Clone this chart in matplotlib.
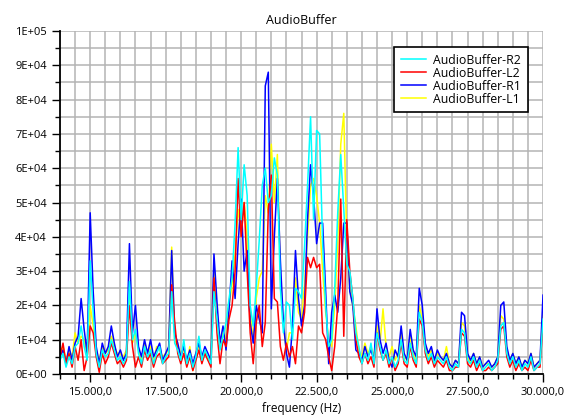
import numpy as np
import matplotlib
matplotlib.use('Agg')
import matplotlib.pyplot as plt
from matplotlib.ticker import MultipleLocator, FuncFormatter

plt.rcParams['font.family'] = ['Open Sans', 'DejaVu Sans']

# frequency axis, 100 Hz steps
freq = np.arange(14000, 30001, 100)

# spectra in thousands, one row per 1000 Hz
r1 = [5, 7, 3, 8, 4, 9, 11, 22, 13, 6,
      47, 24, 8, 3, 9, 6, 8, 14, 9, 5,
      7, 4, 6, 38, 12, 20, 8, 5, 10, 6,
      10, 5, 7, 9, 4, 6, 8, 36, 12, 9,
      5, 8, 4, 7, 3, 6, 9, 5, 8, 6,
      4, 35, 21, 9, 14, 7, 19, 33, 22, 38,
      51, 30, 36, 15, 9, 20, 16, 12, 84, 88,
      19, 40, 57, 33, 15, 6, 2, 14, 36, 22,
      14, 20, 45, 61, 52, 38, 44, 44, 24, 3,
      18, 23, 18, 28, 44, 44, 24, 20, 7, 6,
      4, 8, 5, 7, 4, 19, 10, 6, 9, 4,
      2, 7, 5, 14, 6, 4, 13, 7, 5, 25,
      20, 9, 6, 8, 4, 7, 5, 4, 6, 3,
      2, 4, 3, 18, 17, 6, 4, 6, 3, 5,
      2, 3, 4, 2, 3, 5, 20, 21, 8, 4,
      6, 3, 5, 2, 4, 3, 6, 2, 3, 4,
      23]

r2 = [4, 6, 2, 5, 3, 8, 9, 14, 8, 4,
      33, 18, 6, 2, 7, 5, 6, 10, 7, 4,
      5, 3, 5, 27, 10, 13, 6, 3, 8, 5,
      7, 3, 6, 8, 3, 5, 6, 24, 9, 7,
      4, 10, 3, 6, 2, 5, 11, 4, 7, 5,
      3, 24, 16, 7, 11, 15, 22, 28, 44, 66,
      45, 61, 52, 20, 14, 25, 39, 55, 60, 50,
      52, 63, 58, 25, 12, 21, 20, 10, 25, 24,
      22, 37, 55, 75, 45, 71, 70, 38, 20, 8,
      10, 25, 47, 64, 48, 32, 30, 22, 12, 8,
      3, 6, 4, 9, 3, 12, 8, 4, 7, 3,
      5, 2, 4, 10, 4, 3, 9, 5, 3, 18,
      15, 7, 4, 6, 3, 5, 4, 3, 5, 2,
      1, 3, 2, 13, 12, 4, 3, 5, 2, 4,
      1, 2, 3, 1, 2, 4, 14, 15, 6, 3,
      5, 2, 4, 1, 3, 2, 5, 1, 2, 3,
      16]

l1 = [6, 8, 4, 7, 5, 12, 9, 11, 10, 5,
      20, 14, 7, 4, 8, 6, 7, 11, 8, 6,
      6, 5, 7, 22, 9, 12, 7, 4, 9, 6,
      8, 4, 8, 7, 5, 6, 7, 37, 10, 8,
      6, 7, 3, 8, 1, 6, 8, 5, 7, 4,
      5, 30, 15, 8, 12, 10, 20, 26, 35, 48,
      42, 50, 40, 18, 10, 22, 28, 30, 52, 47,
      67, 50, 64, 28, 14, 7, 12, 12, 28, 18,
      16, 26, 40, 55, 57, 52, 44, 30, 18, 10,
      8, 20, 38, 67, 76, 38, 25, 20, 14, 7,
      5, 9, 6, 8, 5, 14, 9, 19, 8, 5,
      8, 4, 6, 12, 5, 4, 11, 6, 4, 20,
      16, 8, 5, 7, 4, 6, 5, 4, 8, 3,
      2, 4, 3, 15, 14, 5, 3, 6, 3, 5,
      2, 3, 3, 2, 3, 5, 17, 16, 7, 4,
      6, 3, 5, 2, 4, 3, 6, 2, 3, 4,
      18]

l2 = [5, 9, 3, 6, 2, 8, 4, 10, 1, 5,
      14, 12, 5, 0.5, 6, 3, 5, 9, 6, 3,
      4, 2, 4, 20, 8, 2, 5, 2, 7, 4,
      6, 2, 5, 6, 3, 4, 5, 26, 15, 6,
      3, 6, 2, 5, 1, 4, 7, 3, 6, 4,
      2, 28, 12, 3, 10, 8, 16, 20, 30, 57,
      40, 50, 30, 12, 3, 15, 20, 8, 15, 48,
      58, 22, 21, 8, 4, 9, 5, 8, 3, 14,
      12, 18, 34, 31, 34, 31, 32, 12, 10, 5,
      1, 8, 20, 51, 11, 45, 30, 22, 10, 5,
      3, 6, 3, 5, 2, 12, 7, 4, 6, 2,
      5, 1, 3, 9, 3, 2, 8, 4, 2, 16,
      14, 6, 3, 5, 2, 4, 3, 2, 4, 1,
      1, 2, 2, 12, 11, 3, 2, 4, 1, 3,
      1, 1, 2, 1, 2, 3, 13, 14, 5, 2,
      4, 1, 3, 1, 2, 1, 4, 1, 2, 2,
      15]

fig = plt.figure(figsize=(5.73, 4.19), dpi=100)
ax = fig.add_axes([0.1047, 0.1074, 0.843, 0.8186])

# drawn bottom to top, legend shows the reverse
lines = []
lines += ax.plot(freq, np.array(l1) * 1000, color='#ffff00', lw=1.1, label='AudioBuffer-L1')
lines += ax.plot(freq, np.array(r1) * 1000, color='#0000ff', lw=1.1, label='AudioBuffer-R1')
lines += ax.plot(freq, np.array(l2) * 1000, color='#ff0000', lw=1.1, label='AudioBuffer-L2')
lines += ax.plot(freq, np.array(r2) * 1000, color='#00ffff', lw=1.1, label='AudioBuffer-R2')

ax.set_xlim(14000, 30000)
ax.set_ylim(0, 100000)
ax.xaxis.set_major_locator(MultipleLocator(2500))
ax.xaxis.set_minor_locator(MultipleLocator(500))
ax.yaxis.set_major_locator(MultipleLocator(10000))
ax.yaxis.set_minor_locator(MultipleLocator(5000))
ax.xaxis.set_major_formatter(FuncFormatter(lambda v, p: f"{v:,.1f}".replace(',', 'X').replace('.', ',').replace('X', '.')))
ax.yaxis.set_major_formatter(FuncFormatter(lambda v, p: f"{v:.0E}"))

ax.grid(True, which='both', color='#b4b4b4', lw=1.1)
ax.set_axisbelow(True)
for s in ['top', 'right']:
    ax.spines[s].set_visible(False)
ax.spines['left'].set_linewidth(1.3)
ax.spines['bottom'].set_linewidth(1.3)
ax.tick_params(which='major', length=6, width=1, labelsize=8, direction='out')
ax.tick_params(which='minor', length=3.5, width=1, direction='out')

ax.set_title('AudioBuffer', fontsize=9, pad=5)
ax.set_xlabel('frequency (Hz)', fontsize=8.5, labelpad=3)

leg = ax.legend(lines[::-1], [l.get_label() for l in lines[::-1]],
                loc='upper right', bbox_to_anchor=(0.968, 0.954), borderaxespad=0,
                fontsize=8.8, fancybox=False, framealpha=1, edgecolor='black',
                handlelength=2.0, handletextpad=0.6, labelspacing=0.0, borderpad=0.55)
leg.get_frame().set_linewidth(1.2)

fig.savefig('out.png', dpi=100)
